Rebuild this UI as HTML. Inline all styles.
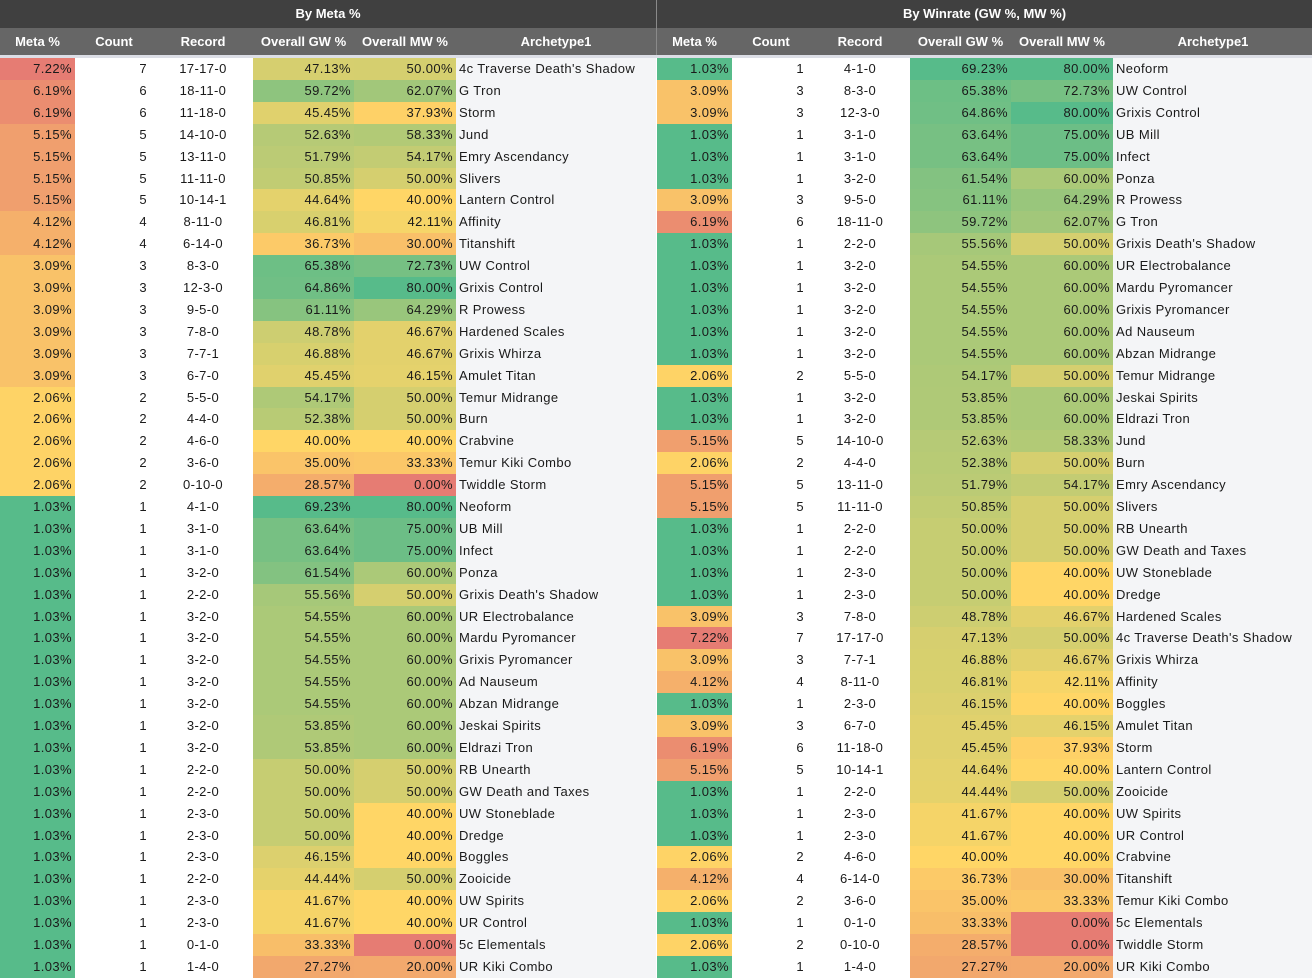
<!DOCTYPE html>
<html><head><meta charset="utf-8"><style>
body{margin:0;width:1312px;height:978px;overflow:hidden;background:#fff;font-family:"Liberation Sans",sans-serif;}
#wrap{position:relative;width:1312px;height:978px;}
.c{position:absolute;box-sizing:border-box;font-size:13px;color:#1a1a1a;letter-spacing:0.4px;white-space:nowrap;overflow:hidden;}
.h{position:absolute;box-sizing:border-box;color:#fff;font-weight:bold;font-size:13px;text-align:center;}
</style></head><body><div id="wrap"></div>
<script>
const names=["4c Traverse Death's Shadow","G Tron","Storm","Jund","Emry Ascendancy","Slivers","Lantern Control","Affinity","Titanshift","UW Control","Grixis Control","R Prowess","Hardened Scales","Grixis Whirza","Amulet Titan","Temur Midrange","Burn","Crabvine","Temur Kiki Combo","Twiddle Storm","Neoform","UB Mill","Infect","Ponza","Grixis Death's Shadow","UR Electrobalance","Mardu Pyromancer","Grixis Pyromancer","Ad Nauseum","Abzan Midrange","Jeskai Spirits","Eldrazi Tron","RB Unearth","GW Death and Taxes","UW Stoneblade","Dredge","Boggles","Zooicide","UW Spirits","UR Control","5c Elementals","UR Kiki Combo"];
const meta=[7.22,6.19,6.19,5.15,5.15,5.15,5.15,4.12,4.12,3.09,3.09,3.09,3.09,3.09,3.09,2.06,2.06,2.06,2.06,2.06,1.03,1.03,1.03,1.03,1.03,1.03,1.03,1.03,1.03,1.03,1.03,1.03,1.03,1.03,1.03,1.03,1.03,1.03,1.03,1.03,1.03,1.03];
const counts=[7,6,6,5,5,5,5,4,4,3,3,3,3,3,3,2,2,2,2,2,1,1,1,1,1,1,1,1,1,1,1,1,1,1,1,1,1,1,1,1,1,1];
const records=["17-17-0","18-11-0","11-18-0","14-10-0","13-11-0","11-11-0","10-14-1","8-11-0","6-14-0","8-3-0","12-3-0","9-5-0","7-8-0","7-7-1","6-7-0","5-5-0","4-4-0","4-6-0","3-6-0","0-10-0","4-1-0","3-1-0","3-1-0","3-2-0","2-2-0","3-2-0","3-2-0","3-2-0","3-2-0","3-2-0","3-2-0","3-2-0","2-2-0","2-2-0","2-3-0","2-3-0","2-3-0","2-2-0","2-3-0","2-3-0","0-1-0","1-4-0"];
const gw=[47.13,59.72,45.45,52.63,51.79,50.85,44.64,46.81,36.73,65.38,64.86,61.11,48.78,46.88,45.45,54.17,52.38,40.00,35.00,28.57,69.23,63.64,63.64,61.54,55.56,54.55,54.55,54.55,54.55,54.55,53.85,53.85,50.00,50.00,50.00,50.00,46.15,44.44,41.67,41.67,33.33,27.27];
const mw=[50.00,62.07,37.93,58.33,54.17,50.00,40.00,42.11,30.00,72.73,80.00,64.29,46.67,46.67,46.15,50.00,50.00,40.00,33.33,0.00,80.00,75.00,75.00,60.00,50.00,60.00,60.00,60.00,60.00,60.00,60.00,60.00,50.00,50.00,40.00,40.00,40.00,50.00,40.00,40.00,0.00,20.00];
const winrateOrder=["Neoform","UW Control","Grixis Control","UB Mill","Infect","Ponza","R Prowess","G Tron","Grixis Death's Shadow","UR Electrobalance","Mardu Pyromancer","Grixis Pyromancer","Ad Nauseum","Abzan Midrange","Temur Midrange","Jeskai Spirits","Eldrazi Tron","Jund","Burn","Emry Ascendancy","Slivers","RB Unearth","GW Death and Taxes","UW Stoneblade","Dredge","Hardened Scales","4c Traverse Death's Shadow","Grixis Whirza","Affinity","Boggles","Amulet Titan","Storm","Lantern Control","Zooicide","UW Spirits","UR Control","Crabvine","Titanshift","Temur Kiki Combo","5c Elementals","Twiddle Storm","UR Kiki Combo"];

const RED=[230,124,115],YEL=[255,214,102],GRN=[87,187,138];
function mix(a,b,t){t=Math.max(0,Math.min(1,t));return 'rgb('+a.map((v,i)=>Math.round(v+(b[i]-v)*t)).join(',')+')';}
function scale(v,min,mid,max,inv){
  let lo=inv?GRN:RED,hi=inv?RED:GRN;
  return v<=mid?mix(lo,YEL,(v-min)/(mid-min)):mix(YEL,hi,(v-mid)/(max-mid));
}
const W=document.getElementById('wrap');
function cell(x,y,w,h,txt,bg,align,name,cls){
  const d=document.createElement('div');
  d.className=cls||'c';
  
  
  d.style.left=x+'px';d.style.top=y+'px';d.style.width=w+'px';d.style.height=h+'px';
  d.style.lineHeight=h+'px';
  if(bg)d.style.background=bg;
  d.style.textAlign=align;
  if(align==='right')d.style.paddingRight='3px';
  if(align==='left')d.style.paddingLeft='3px';
  d.textContent=txt;W.appendChild(d);return d;
}
cell(0,0,1312,28,'','#404040','center','header-band','h');
cell(0,28,1312,27,'','#666666','center','column-header-band','h');
cell(0,55,1312,3,'','#dcdee6','center','header-divider','h');
cell(656,0,1,55,'','#8a8a8a','center','table-separator','h');
cell(0,0,656,28,'By Meta %',null,'center','by-meta-title','h');
cell(657,0,655,28,'By Winrate (GW %, MW %)',null,'center','by-winrate-title','h');
const cols=[[0,75,'Meta %'],[75,78,'Count'],[153,100,'Record'],[253,101,'Overall GW %'],[354,102,'Overall MW %'],[456,200,'Archetype1']];
const offs=[0,657];
offs.forEach((o,ti)=>{
  cell(o+456,58,ti?655-456:200,920,'','#f4f5f7','left','archetype-column-bg','c');
  cols.forEach(c=>{cell(o+c[0],28,c[1],27,c[2],null,'center',(ti?'winrate-':'meta-')+'header-'+c[2].toLowerCase().replace(/[^a-z0-9]+/g,'-'),'h');});
});
const RH=21.9,Y0=58;
function drawTable(order,o,prefix){
  order.forEach((nm,r)=>{
    const i=names.indexOf(nm);
    const y=Y0+r*RH;
    cell(o+0,y,75,RH+0.5,meta[i].toFixed(2)+'%',scale(meta[i],1.03,1.9,7.22,true),'right',prefix+'meta-cell');
    cell(o+75,y,78,RH,String(counts[i]),null,'right',prefix+'count-cell').style.paddingRight='6px';
    cell(o+153,y,100,RH,records[i],null,'center',prefix+'record-cell');
    cell(o+253,y,101,RH+0.5,gw[i].toFixed(2)+'%',scale(gw[i],15,40,69.23,false),'right',prefix+'gw-cell');
    cell(o+354,y,102,RH+0.5,mw[i].toFixed(2)+'%',scale(mw[i],0,40,80,false),'right',prefix+'mw-cell');
    cell(o+456,y,200,RH,nm,null,'left',prefix+'archetype-cell');
  });
}
drawTable(names,0,'meta-');
drawTable(winrateOrder,657,'winrate-');
</script></body></html>
